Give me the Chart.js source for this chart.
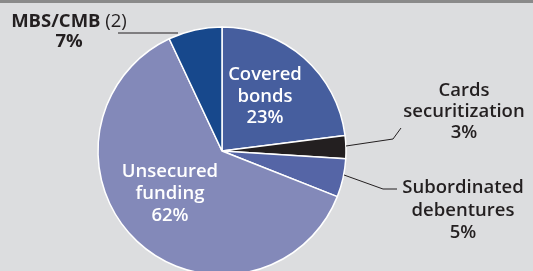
<!DOCTYPE html>
<html><head><meta charset="utf-8">
<script src="https://cdn.jsdelivr.net/npm/chart.js@4.4.1/dist/chart.umd.min.js"></script>
<style>
html,body{margin:0;padding:0;width:533px;height:271px;overflow:hidden;background:#dcdddf;}
#bar{position:absolute;left:0;top:0;width:533px;height:3px;background:#8a8a8a;z-index:2;}
#wrap{position:absolute;left:0;top:0;width:533px;height:302px;}
</style></head><body>
<div id="bar"></div>
<div id="wrap"><canvas id="c" width="533" height="302"></canvas></div>
<script>
// Data (clockwise from 12 o'clock)
const categories = ["Covered bonds", "Cards securitization", "Subordinated debentures", "Unsecured funding", "MBS/CMB"];
const shares = [23, 3, 5, 62, 7];
const sliceColors = ["#465e9e", "#231f20", "#5565a6", "#8389b9", "#17488c"];

// Label layout (text lines, positions, style) — presentation only
const labelLayout = [
  {lines:[["Covered"],["bonds"],["23%"]], x:265, y:[80,102,123], color:"#ffffff"},
  {lines:[["Cards"],["securitization"],["3%"]], x:464, y:[96,117,138], color:"#231f20",
   leader:[[346,146],[393,139],[401,128]]},
  {lines:[["Subordinated"],["debentures"],["5%"]], x:463, y:[193,216,238], color:"#231f20",
   leader:[[344,175],[383,189],[397,189]]},
  {lines:[["Unsecured"],["funding"],["62%"]], x:170, y:[177,199,221], color:"#ffffff"},
  {lines:[["MBS/CMB"," (2)"],["7%"]], x:69, y:[27,47], color:"#231f20", bold:true,
   leader:[[118,33],[178,33]]}
];

const labelPlugin = {
  id:'labels',
  afterDatasetsDraw(chart){
    const ctx = chart.ctx;
    ctx.save();
    labelLayout.forEach(L=>{
      if(L.leader){
        ctx.strokeStyle="#231f20"; ctx.lineWidth=1;
        ctx.beginPath();
        L.leader.forEach((p,i)=> i?ctx.lineTo(p[0],p[1]):ctx.moveTo(p[0],p[1]));
        ctx.stroke();
      }
      ctx.fillStyle=L.color;
      ctx.textBaseline="alphabetic";
      L.lines.forEach((parts,i)=>{
        const fMain = (L.bold?"700 ":"600 ")+"18.5px 'Open Sans'";
        const fSub = "400 18.5px 'Open Sans'";
        let w=0;
        parts.forEach((t,j)=>{ctx.font = j?fSub:fMain; w+=ctx.measureText(t).width;});
        let x = L.x - w/2;
        ctx.textAlign="left";
        parts.forEach((t,j)=>{ctx.font = j?fSub:fMain; ctx.fillText(t,x,L.y[i]); x+=ctx.measureText(t).width;});
      });
    });
    ctx.restore();
  }
};

new Chart(document.getElementById('c'), {
  type:'pie',
  data:{labels:categories, datasets:[{data:shares, backgroundColor:sliceColors, borderColor:"#ffffff", borderWidth:1.5, radius:124}]},
  options:{
    responsive:false, animation:false,
    layout:{padding:{top:27,bottom:27,left:98,right:187}},
    plugins:{legend:{display:false}, tooltip:{enabled:false}}
  },
  plugins:[labelPlugin]
});
</script>
</body></html>
